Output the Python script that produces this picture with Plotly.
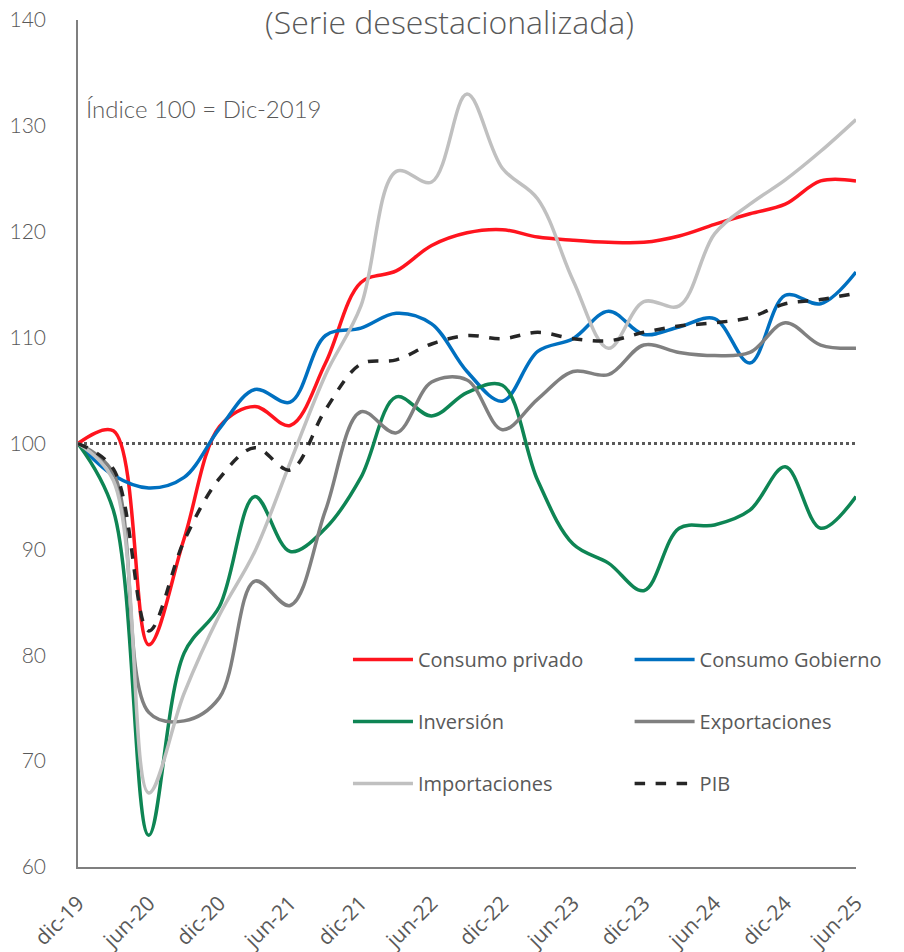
import plotly.graph_objects as go

quarters = ["dic-19", "mar-20", "jun-20", "sep-20", "dic-20", "mar-21", "jun-21", "sep-21",
            "dic-21", "mar-22", "jun-22", "sep-22", "dic-22", "mar-23", "jun-23", "sep-23",
            "dic-23", "mar-24", "jun-24", "sep-24", "dic-24", "mar-25", "jun-25"]
tick_labels = ["dic-19", "jun-20", "dic-20", "jun-21", "dic-21", "jun-22", "dic-22",
               "jun-23", "dic-23", "jun-24", "dic-24", "jun-25"]

consumo_privado = [100, 101.2, 81.0, 91.0, 101.6, 103.5, 101.7, 107.6, 115.2, 116.3, 118.7, 119.9,
                   120.2, 119.5, 119.2, 119.0, 119.0, 119.6, 120.7, 121.7, 122.6, 124.8, 124.8]
consumo_gobierno = [100, 97.0, 95.8, 96.8, 101.4, 105.1, 103.9, 110.2, 110.9, 112.3, 111.3, 106.8,
                    104.0, 108.7, 109.9, 112.5, 110.3, 111.0, 111.8, 107.6, 114.0, 113.2, 116.2]
inversion = [100, 93.7, 63.0, 80.2, 84.6, 95.0, 89.8, 92.0, 96.8, 104.4, 102.6, 104.8,
             105.5, 96.5, 90.5, 88.7, 86.1, 92.0, 92.3, 93.7, 97.8, 92.0, 95.0]
exportaciones = [100, 97.2, 74.6, 73.8, 76.0, 87.0, 84.7, 93.7, 103.0, 101.0, 105.8, 106.0,
                 101.3, 104.2, 106.8, 106.5, 109.3, 108.6, 108.3, 108.6, 111.4, 109.3, 109.0]
importaciones = [100, 96.5, 67.0, 76.4, 83.8, 89.8, 98.2, 106.5, 113.0, 125.7, 124.7, 133.0,
                 126.0, 123.1, 115.4, 109.0, 113.4, 113.0, 119.8, 122.6, 124.9, 127.6, 130.6]
pib = [100, 97.6, 82.3, 90.8, 96.7, 99.6, 97.5, 103.2, 107.5, 107.9, 109.4, 110.2,
       109.9, 110.5, 109.9, 109.7, 110.5, 111.1, 111.4, 111.9, 113.2, 113.6, 114.2]
base_100 = [100] * len(quarters)

series = [
    ("Consumo privado", consumo_privado, "#FF141E", "solid", "legend"),
    ("Consumo Gobierno", consumo_gobierno, "#0070C0", "solid", "legend2"),
    ("Inversión", inversion, "#0E8554", "solid", "legend"),
    ("Exportaciones", exportaciones, "#808080", "solid", "legend2"),
    ("Importaciones", importaciones, "#C0C0C0", "solid", "legend"),
    ("PIB", pib, "#262626", "dash", "legend2"),
]

fig = go.Figure()

fig.add_trace(go.Scatter(x=quarters, y=base_100, mode="lines", showlegend=False,
                         line=dict(color="#595959", width=3, dash="dot"), hoverinfo="skip"))

for name, vals, color, dash, leg in series:
    fig.add_trace(go.Scatter(
        x=quarters, y=vals, mode="lines", name=name, legend=leg, legendgroup=name,
        line=dict(color=color, width=3.5, dash=dash, shape="spline", smoothing=1.0),
    ))

tick_font = dict(family="Lato, Liberation Sans, sans-serif", size=21, color="#595959", weight=300)
xtick_font = dict(family="Open Sans, Noto Sans, sans-serif", size=21, color="#595959")

legend_common = dict(
    orientation="v", bgcolor="rgba(0,0,0,0)", tracegroupgap=33,
    font=dict(family="Open Sans, Noto Sans, sans-serif", size=20, color="#595959"),
    xanchor="left", yanchor="top", itemwidth=60,
)

fig.update_layout(
    width=904, height=952,
    paper_bgcolor="white", plot_bgcolor="white",
    margin=dict(l=78, r=48, t=20, b=85, autoexpand=False),
    showlegend=True,
    legend=dict(x=0.347, y=0.268, **legend_common),
    legend2=dict(x=0.709, y=0.268, **legend_common),
    xaxis=dict(
        type="category", range=[0, len(quarters) - 1], automargin=False,
        tickmode="array", tickvals=tick_labels, ticktext=tick_labels,
        tickangle=-45, showgrid=False, zeroline=False,
        showline=True, linecolor="#7F7F7F", linewidth=1.5, ticks="",
        ticklabelstandoff=14, ticklabeloverflow="allow", tickfont=xtick_font,
    ),
    yaxis=dict(
        range=[60, 140], tickmode="array", tickvals=[60, 70, 80, 90, 100, 110, 120, 130, 140],
        showgrid=False, zeroline=False, showline=True, linecolor="#7F7F7F", linewidth=1.5,
        ticks="", ticklabelstandoff=26, ticklabeloverflow="allow", automargin=False,
        tickfont=tick_font,
    ),
)

fig.add_annotation(
    text="(Serie desestacionalizada)", xref="paper", yref="paper", x=0.478, y=0.998,
    xanchor="center", yanchor="middle", showarrow=False,
    font=dict(family="Open Sans, Noto Sans, sans-serif", size=32, color="#595959", weight=300),
)
fig.add_annotation(
    text="Índice 100 = Dic-2019", xref="paper", yref="paper", x=0.008, y=0.896,
    xanchor="left", yanchor="middle", showarrow=False,
    font=dict(family="Lato, Liberation Sans, sans-serif", size=24, color="#595959", weight=300),
)

# remove the default 8px page margin so the 904x952 figure fills the window exactly
fig.write_html("out.html", config={"displayModeBar": False},
               post_script="document.body.style.margin='0';")
